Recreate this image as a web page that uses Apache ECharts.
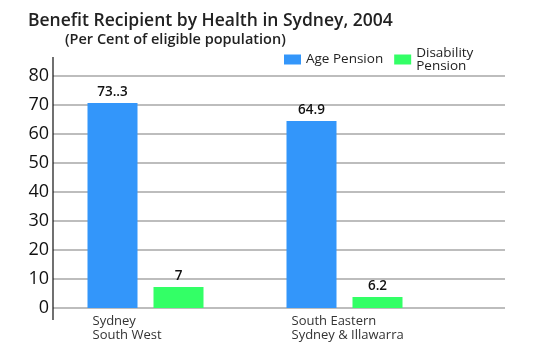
<!DOCTYPE html>
<html><head><meta charset="utf-8">
<script src="https://cdn.jsdelivr.net/npm/echarts@6/dist/echarts.min.js"></script>
<style>html,body{margin:0;padding:0;background:#fff}#c{width:550px;height:350px}</style>
</head><body><div id="c"></div>
<script>
const titleText = 'Benefit Recipient by Health in Sydney, 2004';
const subtitleText = '(Per Cent of eligible population)';
const categories = ['Sydney\nSouth West', 'South Eastern\nSydney & Illawarra'];
const seriesNames = ['Age Pension', 'Disability\nPension'];
const agePension = [70.7, 64.5];
const disabilityPension = [7.2, 3.8];
const ageLabels = ['73..3', '64.9'];
const disabilityLabels = ['7', '6.2'];
const yMin = 0, yMax = 80, yStep = 10;

const FONT = '"Open Sans"';
const chart = echarts.init(document.getElementById('c'), null, {renderer: 'canvas'});
chart.setOption({
  animation: false,
  backgroundColor: '#fff',
  textStyle: {fontFamily: FONT},
  title: [
    {text: titleText, left: 23, top: 7, textStyle: {fontFamily: FONT, fontSize: 17.5, fontWeight: 600, color: '#222'}},
    {text: subtitleText, left: 60, top: 27, textStyle: {fontFamily: FONT, fontSize: 14.5, fontWeight: 600, color: '#222'}}
  ],
  legend: {
    top: 41, left: 279, itemWidth: 17, itemHeight: 10, itemGap: 11,
    textStyle: {fontFamily: FONT, fontSize: 13.5, fontWeight: 500, color: '#222', lineHeight: 13},
    data: seriesNames.map(n => ({name: n, icon: 'rect'}))
  },
  grid: [
    {left: 53, right: 45, top: 76, bottom: 42},
    {left: 46, right: 106, top: 76, bottom: 42}
  ],
  xAxis: [
    {gridIndex: 0, type: 'value', min: 0, max: 1, show: false},
    {gridIndex: 1, type: 'category', data: categories,
     axisLine: {show: false}, axisTick: {show: false},
     axisLabel: {margin: 6, align: 'center', color: '#333', fontSize: 13,
       formatter: v => v.split('\n').map(s => '{a|' + s + '}').join('\n'),
       rich: {a: {width: 106, align: 'left', fontFamily: FONT, fontSize: 13, fontWeight: 500, color: '#333', lineHeight: 14}}}}
  ],
  yAxis: [
    {gridIndex: 0, type: 'value', min: yMin, max: yMax, interval: yStep,
     axisLine: {show: false}, axisTick: {show: false},
     splitLine: {show: true, lineStyle: {color: '#bdbdbd', width: 2}},
     axisLabel: {margin: 4, color: '#111', fontSize: 18, fontWeight: 500, fontFamily: FONT, padding: [0, 0, 9, 0]}},
    {gridIndex: 1, type: 'value', min: yMin, max: yMax, interval: yStep, show: false, splitLine: {show: false}}
  ],
  series: [
    {name: seriesNames[0], type: 'bar', xAxisIndex: 1, yAxisIndex: 1, data: agePension,
     barWidth: 50, barGap: '32%', itemStyle: {color: '#3396fa'},
     label: {show: true, position: 'top', distance: 4, color: '#111', fontSize: 13.5, fontWeight: 600, fontFamily: FONT,
       formatter: p => ageLabels[p.dataIndex]}},
    {name: seriesNames[1], type: 'bar', xAxisIndex: 1, yAxisIndex: 1, data: disabilityPension,
     barWidth: 50, barGap: '32%', itemStyle: {color: '#33ff66'},
     label: {show: true, position: 'top', distance: 4, color: '#111', fontSize: 13.5, fontWeight: 600, fontFamily: FONT,
       formatter: p => disabilityLabels[p.dataIndex]}}
  ],
  graphic: [
    {type: 'line', z: 100, shape: {x1: 53, y1: 57, x2: 53, y2: 320}, style: {stroke: '#111', lineWidth: 1.2}}
  ]
});
</script></body></html>
